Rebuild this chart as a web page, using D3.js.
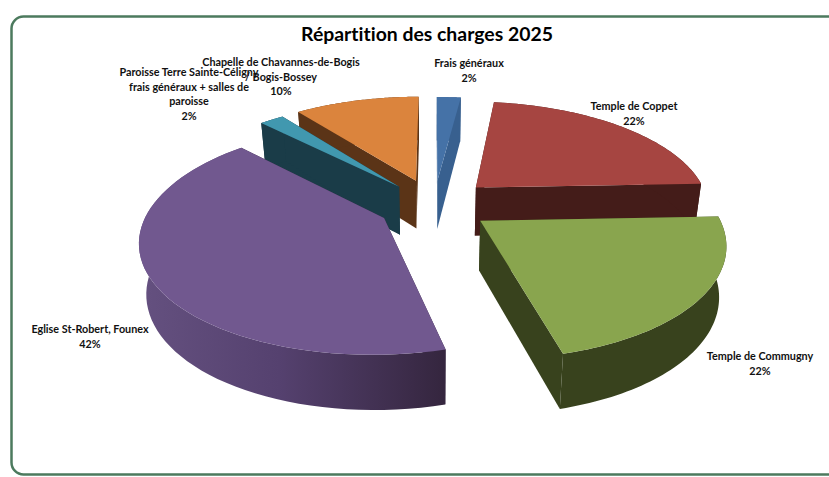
<!DOCTYPE html>
<html><head><meta charset="utf-8">
<script src="https://cdn.jsdelivr.net/npm/d3@7"></script>
<style>html,body{margin:0;padding:0;background:#fff;overflow:hidden}svg{display:block}text{font-variant-ligatures:none}</style>
</head><body><svg id="c" width="829" height="477"></svg>
<script>
(function(){
const title = "Répartition des charges 2025";
const categories = ["Frais généraux","Temple de Coppet","Temple de Commugny","Eglise St-Robert, Founex","Paroisse Terre Sainte-Céligny frais généraux + salles de paroisse","Chapelle de Chavannes-de-Bogis / Bogis-Bossey"];
const values = [2,22.4,21.6,41.6,2,10.4];
const labelLines = [["Frais généraux"],["Temple de Coppet"],["Temple de Commugny"],["Eglise St-Robert, Founex"],["Paroisse Terre Sainte-Céligny","frais généraux + salles de","paroisse"],["Chapelle de Chavannes-de-Bogis","/ Bogis-Bossey"]];
const topColors = ["#4572a7","#a64541","#89a54e","#71588f","#4198af","#db843d"];
const wallColors = ["#38608f","#441c19","#38421d","#35263f","#1a3c48","#5b3417"];
const explode = [0.234,0.25,0.24,0.24,0.234,0.25];
const labelPos = [[469,67],[634,110],[760,360],[90,333],[189,76],[281,66]];
const drawOrder = [0,5,4,1,3,2];

const svg = d3.select("#c");
const P = {cx:434,cy:205,rx:234,ry:107,k:0.18,depth:49,depthK:0.1,bottomX:0.975};
function project(u,v){const w=1-P.k*v;return [P.cx+P.rx*u/w,P.cy+P.ry*v/w,w];}
const pie = d3.pie().sort(null).value(d=>d);
const arcs = pie(values);
const line = d3.line();
function world(a,i,r,ang){const mid=(a.startAngle+a.endAngle)/2;
  return [explode[i]*Math.sin(mid)+r*Math.sin(ang),-explode[i]*Math.cos(mid)+r*-Math.cos(ang)];}
function topPt(a,i,r,ang){const w=world(a,i,r,ang);const p=project(w[0],w[1]);return [p[0],p[1]];}
function botPt(a,i,r,ang){const w=world(a,i,r,ang);const p=project(w[0],w[1]);
  return [P.cx+(p[0]-P.cx)*P.bottomX,p[1]+P.depth/(1-P.depthK*w[1])];}

const defs = svg.append("defs");
const g = defs.append("linearGradient").attr("id","wallE").attr("gradientUnits","userSpaceOnUse")
  .attr("x1",145).attr("x2",443).attr("y1",0).attr("y2",0);
g.append("stop").attr("offset","0").attr("stop-color","#64507f");
g.append("stop").attr("offset","0.45").attr("stop-color","#55416f");
g.append("stop").attr("offset","1").attr("stop-color","#35263f");

svg.append("rect").attr("x",11.5).attr("y",16.5).attr("width",860).attr("height",458).attr("rx",12)
  .attr("fill","#fff").attr("stroke","#4c7a5e").attr("stroke-width",2.5);

svg.append("text").attr("x",427).attr("y",41).attr("text-anchor","middle")
  .style("font-family","Lato").style("font-weight",700).style("font-size","19.4px").attr("fill","#000").text(title);

drawOrder.forEach(i=>{
  const a=arcs[i];
  const angs=d3.range(0,61).map(t=>a.startAngle+(a.endAngle-a.startAngle)*t/60);
  const gg=svg.append("g");
  const wall=i===3?"url(#wallE)":wallColors[i];
  const flat=wallColors[i];
  [a.startAngle,a.endAngle].forEach(ang=>{
    gg.append("path").attr("d",line([topPt(a,i,0,ang),topPt(a,i,1,ang),botPt(a,i,1,ang),botPt(a,i,0,ang)])+"Z").attr("fill",flat);
  });
  const outer=angs.map(t=>topPt(a,i,1,t)).concat(angs.slice().reverse().map(t=>botPt(a,i,1,t)));
  gg.append("path").attr("d",line(outer)+"Z").attr("fill",wall);
  const face=[topPt(a,i,0,a.startAngle)].concat(angs.map(t=>topPt(a,i,1,t)));
  gg.append("path").attr("d",line(face)+"Z").attr("fill",topColors[i]);
});

labelLines.forEach((ls,i)=>{
  const t=svg.append("text").attr("text-anchor","middle").style("font-family","Lato").style("font-weight",700).style("font-size","10.8px").attr("fill","#111");
  const total=d3.sum(values);
  ls.concat([Math.round(values[i]/total*100)+"%"]).forEach((s,j)=>{
    t.append("tspan").attr("x",labelPos[i][0]).attr("y",labelPos[i][1]+j*14.5).text(s);
  });
});
})();
</script></body></html>
